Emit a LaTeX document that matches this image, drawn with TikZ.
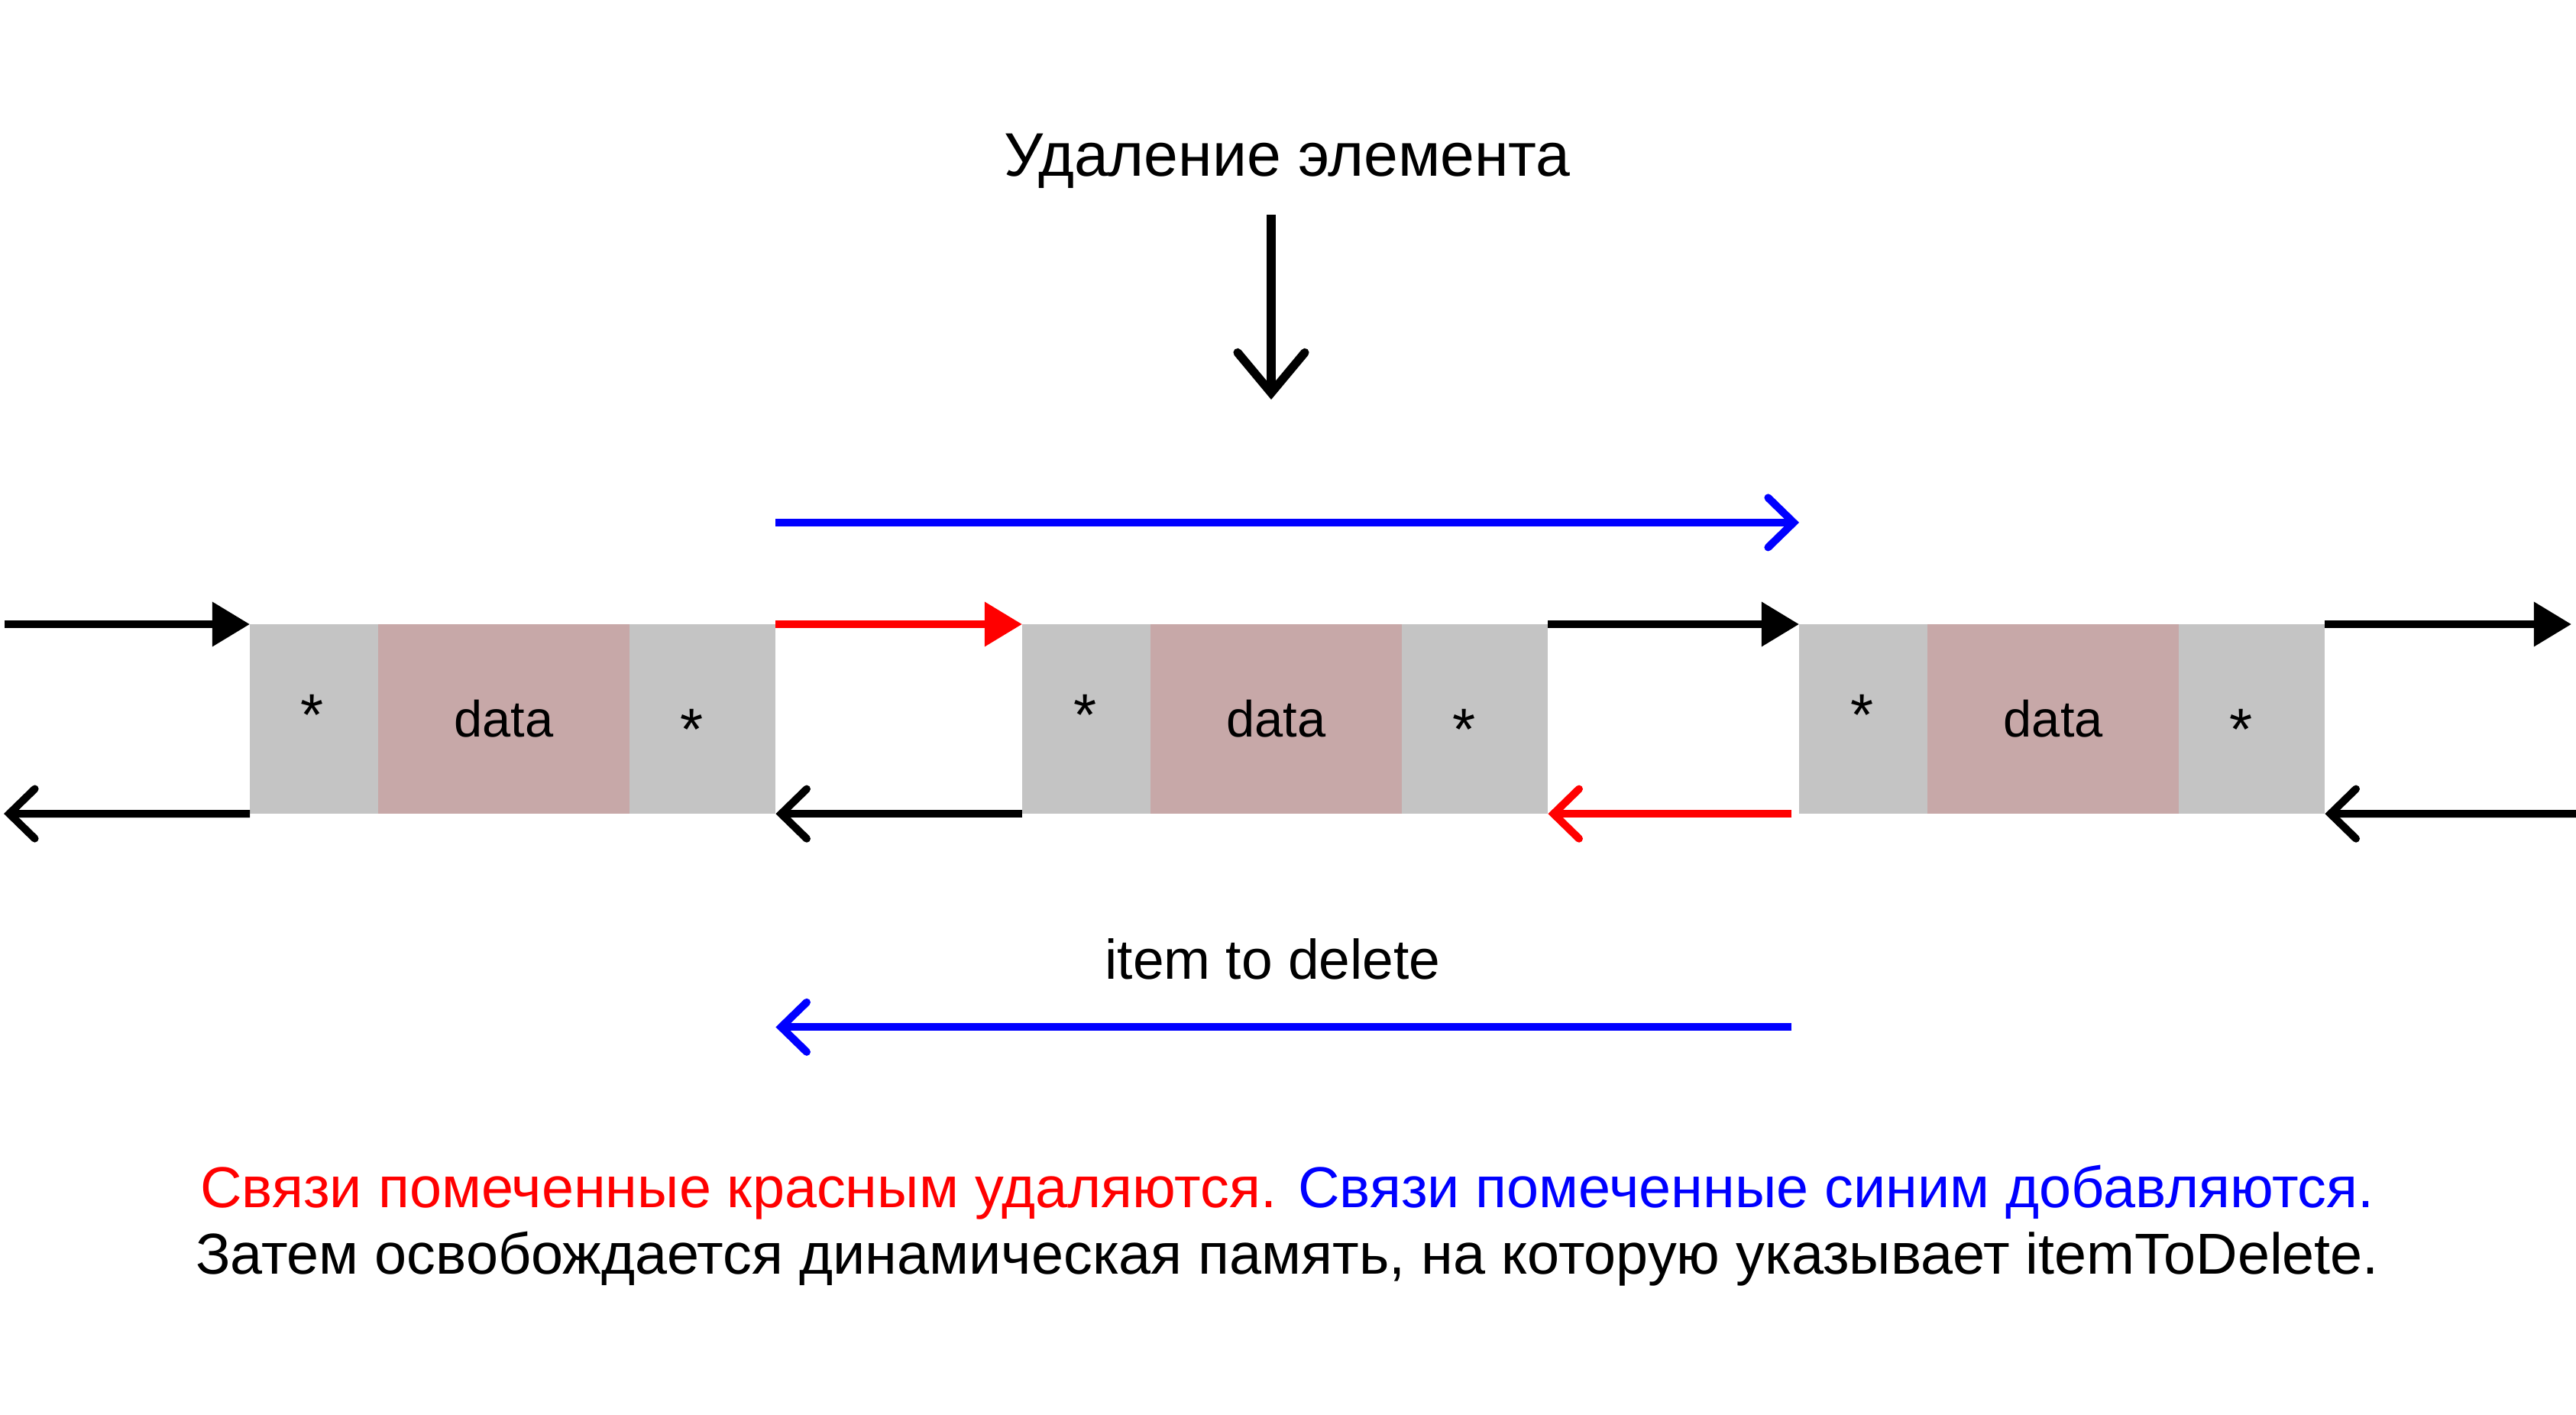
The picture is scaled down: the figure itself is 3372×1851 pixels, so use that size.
\documentclass[tikz,border=0pt]{standalone}
\usepackage{fontspec}
\setmainfont{Liberation Sans}
\usepackage{xcolor}
\usetikzlibrary{arrows.meta,positioning}

\definecolor{ptrgray}{RGB}{196,196,196}
\definecolor{datarose}{RGB}{199,168,168}

\begin{document}
\begin{tikzpicture}[
    x=0.01cm, y=-0.01cm,
    cell/.style={rectangle, inner sep=0pt, outer sep=0pt, minimum height=2.48cm, anchor=north west},
    ptrcell/.style={cell, fill=ptrgray},
    datacell/.style={cell, fill=datarose, minimum width=3.29cm, font=\fontsize{19}{23}\selectfont},
    ptrstar/.style={anchor=base, inner sep=0pt, font=\fontsize{22}{26}\selectfont},
    link/.style={line width=2.85pt},
    fwd/.style={link, -{Triangle[length=14pt 0, width=16pt 0]}},
    back/.style={link, -{Straight Barb[length=9.5pt 0, width=18.5pt 0, line cap=round]}},
    pointer/.style={line width=3.2pt, -{Straight Barb[length=15pt 0, width=25pt 0, line cap=round]}}
]
    \useasboundingbox (0,0) rectangle (3372,1851);

    % list items
    \foreach \i/\x in {1/327, 2/1338, 3/2355} {
        \node[ptrcell, minimum width=1.68cm] (n\i-prev) at (\x,817) {};
        \node[datacell, right=0pt of n\i-prev] (n\i-data) {data};
        \node[ptrcell, minimum width=1.91cm, right=0pt of n\i-data] (n\i-next) {};
        \node[ptrstar] (n\i-pstar) at ([xshift=0.82cm, yshift=-1.45cm]n\i-prev.north west) {*};
        \node[ptrstar] (n\i-nstar) at ([xshift=0.81cm, yshift=-1.64cm]n\i-next.north west) {*};
    }

    \coordinate (head-in) at (6,817);
    \coordinate (tail-out) at (3366,817);
    \coordinate (head-out) at (5,1065);
    \coordinate (tail-in) at (3372,1065);

    % next links
    \draw[fwd] (head-in) -- (n1-prev.north west);
    \draw[fwd, red] (n1-next.north east) -- (n2-prev.north west);
    \draw[fwd] (n2-next.north east) -- (n3-prev.north west);
    \draw[fwd] (n3-next.north east) -- (tail-out);

    % prev links
    \draw[back] (n1-prev.south west) -- (head-out);
    \draw[back] (n2-prev.south west) -- (n1-next.south east);
    \draw[back, red, shorten <=0.1cm] (n3-prev.south west) -- (n2-next.south east);
    \draw[back] (tail-in) -- (n3-next.south east);

    % new links
    \draw[back, blue] ([yshift=1.33cm]n1-next.north east) -- ([yshift=1.33cm]n3-prev.north west);
    \draw[back, blue, shorten <=0.1cm] ([yshift=-2.79cm]n3-prev.south west) -- ([yshift=-2.79cm]n1-next.south east);

    % removed item
    \node[anchor=base, font=\fontsize{22.9}{27}\selectfont] (title) at (1685,230) {Удаление элемента};
    \coordinate (del-from) at (1664,281);
    \coordinate (del-to) at (1664,523);
    \draw[pointer] (del-from) -- (del-to);
    \node[anchor=base, font=\fontsize{20.8}{25}\selectfont] (del-label) at (1666,1281) {item to delete};

    % notes
    \node[anchor=base, font=\fontsize{21.5}{26}\selectfont] (note-links) at (1685,1580)
        {\textcolor{red}{Связи помеченные красным удаляются.} \textcolor{blue}{Связи помеченные синим добавляются.}};
    \node[anchor=base, font=\fontsize{21.5}{26}\selectfont] (note-free) at (1685,1667)
        {Затем освобождается динамическая память, на которую указывает itemToDelete.};
\end{tikzpicture}
\end{document}
